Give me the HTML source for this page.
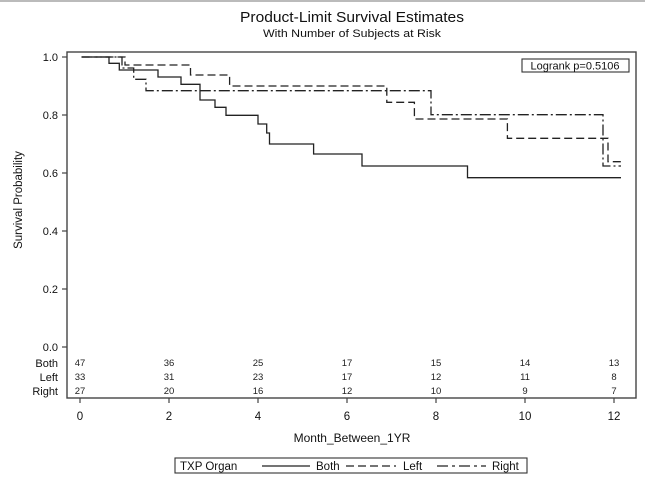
<!DOCTYPE html>
<html><head><meta charset="utf-8"><style>
html,body{margin:0;padding:0;background:#fff;}
svg{display:block;font-family:"Liberation Sans",Arial,sans-serif;}
</style></head><body>
<svg width="645" height="483" viewBox="0 0 645 483" xmlns="http://www.w3.org/2000/svg">
<rect x="0" y="0" width="645" height="483" fill="#fff"/>
<line x1="0" y1="1" x2="645" y2="1" stroke="#bbb" stroke-width="2"/>
<text x="352" y="22" font-size="14.5" text-anchor="middle" fill="#111" textLength="224" lengthAdjust="spacingAndGlyphs">Product-Limit Survival Estimates</text>
<text x="352" y="37" font-size="11" text-anchor="middle" fill="#111" textLength="178" lengthAdjust="spacingAndGlyphs">With Number of Subjects at Risk</text>
<rect x="67" y="52" width="569" height="346" fill="none" stroke="#444" stroke-width="1.4"/>
<g stroke="#444" stroke-width="1.2">
<line x1="62" y1="57" x2="67" y2="57"/><line x1="62" y1="115" x2="67" y2="115"/><line x1="62" y1="173" x2="67" y2="173"/><line x1="62" y1="231" x2="67" y2="231"/><line x1="62" y1="289" x2="67" y2="289"/><line x1="62" y1="347" x2="67" y2="347"/>
<line x1="80" y1="398" x2="80" y2="403"/><line x1="169" y1="398" x2="169" y2="403"/><line x1="258" y1="398" x2="258" y2="403"/><line x1="347" y1="398" x2="347" y2="403"/><line x1="436" y1="398" x2="436" y2="403"/><line x1="525" y1="398" x2="525" y2="403"/><line x1="614" y1="398" x2="614" y2="403"/>
</g>
<g font-size="11" fill="#111" text-anchor="end">
<text x="58" y="61">1.0</text><text x="58" y="119">0.8</text><text x="58" y="177">0.6</text><text x="58" y="235">0.4</text><text x="58" y="293">0.2</text><text x="58" y="351">0.0</text>
<text x="58" y="367">Both</text><text x="58" y="381">Left</text><text x="58" y="395">Right</text>
</g>
<text transform="translate(22,200) rotate(-90)" font-size="11.5" text-anchor="middle" fill="#111">Survival Probability</text>
<g font-size="9.5" fill="#222" text-anchor="middle">
<text x="80" y="366">47</text><text x="169" y="366">36</text><text x="258" y="366">25</text><text x="347" y="366">17</text><text x="436" y="366">15</text><text x="525" y="366">14</text><text x="614" y="366">13</text>
<text x="80" y="380">33</text><text x="169" y="380">31</text><text x="258" y="380">23</text><text x="347" y="380">17</text><text x="436" y="380">12</text><text x="525" y="380">11</text><text x="614" y="380">8</text>
<text x="80" y="394">27</text><text x="169" y="394">20</text><text x="258" y="394">16</text><text x="347" y="394">12</text><text x="436" y="394">10</text><text x="525" y="394">9</text><text x="614" y="394">7</text>
</g>
<g font-size="11.5" fill="#111" text-anchor="middle">
<text x="80" y="420">0</text><text x="169" y="420">2</text><text x="258" y="420">4</text><text x="347" y="420">6</text><text x="436" y="420">8</text><text x="525" y="420">10</text><text x="614" y="420">12</text>
</g>
<text x="352" y="442" font-size="12" text-anchor="middle" fill="#111">Month_Between_1YR</text>
<rect x="522" y="59" width="107" height="13" fill="none" stroke="#333" stroke-width="1.1"/>
<text x="575" y="69.5" font-size="11" text-anchor="middle" fill="#111">Logrank p=0.5106</text>
<g fill="none" stroke="#222" stroke-width="1.3">
<path d="M81.5,57 H109 V63.3 H119.3 V70 H158 V77 H181 V84.3 H200 V100 H215 V107.3 H226 V115.3 H258 V124 H266.7 V133 H269.5 V144 H313.6 V154 H362 V166 H467.5 V177.7 H621"/>
<path d="M81.5,57 H125 V65 H190.5 V75 H229.6 V86 H386.8 V102.3 H414.4 V119 H507.4 V138.3 H608 V161.7 H621" stroke-dasharray="8,4"/>
<path d="M81.5,57 H122 V68 H133.7 V79.3 H146 V90.7 H431 V114.7 H603 V166 H621" stroke-dasharray="11,3,2,3"/>
</g>
<rect x="175" y="458" width="352" height="15" fill="none" stroke="#333" stroke-width="1.1"/>
<g font-size="11.5" fill="#111">
<text x="180" y="470">TXP Organ</text>
<text x="316" y="470">Both</text>
<text x="403" y="470">Left</text>
<text x="492" y="470">Right</text>
</g>
<g stroke="#222" stroke-width="1.3">
<line x1="262" y1="466" x2="310" y2="466"/>
<line x1="346" y1="466" x2="396" y2="466" stroke-dasharray="8,4"/>
<line x1="437" y1="466" x2="486" y2="466" stroke-dasharray="11,4,3,4"/>
</g>
</svg>
</body></html>
